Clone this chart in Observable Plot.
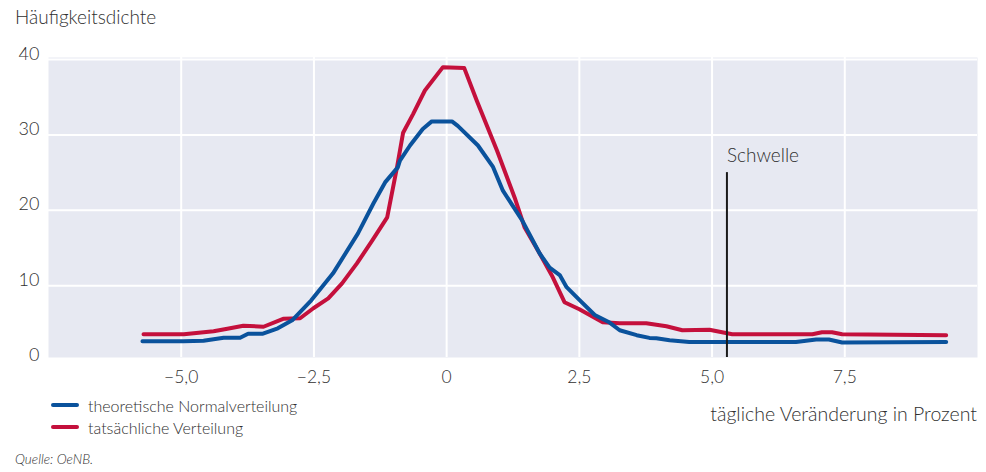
<!DOCTYPE html>
<html>
<head>
<meta charset="utf-8">
<script src="https://cdn.jsdelivr.net/npm/d3@7"></script>
<script src="https://cdn.jsdelivr.net/npm/@observablehq/plot@0.6"></script>
<style>
  html, body { margin: 0; padding: 0; background: #fff; }
  #wrap { position: relative; width: 986px; height: 472px; font-family: Lato, "Open Sans", sans-serif; color: #303030; font-weight: 300; }
  #wrap svg { position: absolute; left: 0; top: 0; }
  .lbl { position: absolute; white-space: nowrap; line-height: 1; }
  .sw { position: absolute; width: 28px; height: 4px; border-radius: 2px; }
</style>
</head>
<body>
<div id="wrap"></div>
<script>
// theoretical normal distribution
const xTheo = [-5.73,-4.96,-4.58,-4.20,-3.89,-3.74,-3.46,-3.18,-2.91,-2.55,-2.14,-1.67,-1.38,-1.16,-0.92,-0.88,-0.69,-0.45,-0.28,0.10,0.21,0.59,0.87,1.06,1.42,1.75,1.94,2.13,2.26,2.50,2.79,3.07,3.26,3.58,3.82,3.95,4.20,4.57,6.58,6.96,7.20,7.45,9.41];
const yTheo = [2.62,2.62,2.68,3.07,3.09,3.62,3.62,4.34,5.40,8.05,11.63,16.93,20.9,23.7,25.7,26.6,28.6,30.8,31.8,31.8,31.2,28.6,25.8,22.6,18.7,14.3,12.4,11.4,9.8,8.1,6.1,5.1,4.08,3.42,3.06,3.02,2.75,2.53,2.53,2.85,2.85,2.45,2.53];
// actual distribution
const xActual = [-5.71,-4.95,-4.39,-4.13,-3.83,-3.45,-3.08,-2.76,-2.51,-2.23,-1.97,-1.69,-1.40,-1.12,-0.93,-0.82,-0.63,-0.41,-0.07,0.33,0.57,0.95,1.28,1.47,1.75,2.00,2.22,2.50,2.94,3.26,3.76,4.14,4.44,4.95,5.38,6.89,7.07,7.26,7.45,9.41];
const yActual = [3.55,3.55,3.95,4.28,4.68,4.54,5.6,5.67,7.0,8.3,10.3,12.95,16.0,19.05,25.9,30.3,32.8,35.9,39.0,38.9,34.5,27.9,21.7,17.7,14.3,11.1,7.8,6.86,5.14,5.0,5.0,4.6,4.08,4.15,3.55,3.55,3.81,3.81,3.55,3.42];
const xTicks = [-5, -2.5, 0, 2.5, 5, 7.5];
const xTickLabels = ["\u22125,0", "\u22122,5", "0", "2,5", "5,0", "7,5"];
const yTicks = [0, 10, 20, 30, 40];
const yTickLabels = ["0", "10", "20", "30", "40"];
const threshold = [{x: 5.28, y1: 0.46, y2: 25, label: "Schwelle"}];
const seriesNames = ["theoretische Normalverteilung", "tatsächliche Verteilung"];
const colors = ["#0a529c", "#c4103c"];

const theo = xTheo.map((x, i) => ({x, y: yTheo[i]}));
const actual = xActual.map((x, i) => ({x, y: yActual[i]}));

const textColor = "#303030";
const chart = Plot.plot({
  width: 986,
  height: 472,
  marginLeft: 48,
  marginRight: 9,
  marginTop: 57,
  marginBottom: 115,
  style: {background: "transparent", fontFamily: "Lato, 'Open Sans', sans-serif", color: textColor},
  x: {domain: [-7.5, 10], axis: null},
  y: {domain: [0.46, 40.28], axis: null},
  marks: [
    Plot.frame({fill: "#e7e9f2", stroke: null}),
    Plot.ruleX(xTicks, {stroke: "#ffffff", strokeWidth: 2}),
    Plot.ruleY(yTicks.filter(d => d > 0), {stroke: "#ffffff", strokeWidth: 2}),
    Plot.text(xTicks, {x: d => d, text: (d, i) => xTickLabels[i], frameAnchor: "bottom", dy: 20, lineAnchor: "middle", fontSize: 17.5, fill: textColor, fontWeight: 300}),
    Plot.text(yTicks, {y: d => d, text: (d, i) => yTickLabels[i], frameAnchor: "left", dx: -9, textAnchor: "end", lineAnchor: "bottom", fontSize: 18, fill: textColor, fontWeight: 300, clip: false}),
    Plot.line(actual, {x: "x", y: "y", stroke: colors[1], strokeWidth: 4, strokeLinejoin: "round", strokeLinecap: "round"}),
    Plot.line(theo, {x: "x", y: "y", stroke: colors[0], strokeWidth: 4, strokeLinejoin: "round", strokeLinecap: "round"}),
    Plot.ruleX(threshold, {x: "x", y1: "y1", y2: "y2", stroke: "#1a1a1a", strokeWidth: 2}),
    Plot.text(threshold, {x: "x", y: "y2", text: "label", textAnchor: "start", dy: -17, fontSize: 19, fill: textColor, fontWeight: 300})
  ]
});

const wrap = document.getElementById("wrap");
wrap.appendChild(chart);

function addLabel(text, css) {
  const d = document.createElement("div");
  d.className = "lbl";
  d.textContent = text;
  Object.assign(d.style, css);
  wrap.appendChild(d);
  return d;
}
addLabel("Häufigkeitsdichte", {left: "15px", top: "7px", fontSize: "19px"});
addLabel("tägliche Veränderung in Prozent", {right: "9px", top: "404px", fontSize: "19.5px"});
addLabel("Quelle: OeNB.", {left: "15px", top: "453px", fontSize: "13.5px", fontStyle: "italic"});
seriesNames.forEach((name, i) => {
  const s = document.createElement("div");
  s.className = "sw";
  s.style.left = "51px";
  s.style.top = (403 + i * 22) + "px";
  s.style.background = colors[i];
  wrap.appendChild(s);
  addLabel(name, {left: "88px", top: (398 + i * 22) + "px", fontSize: "16px"});
});
</script>
</body>
</html>
